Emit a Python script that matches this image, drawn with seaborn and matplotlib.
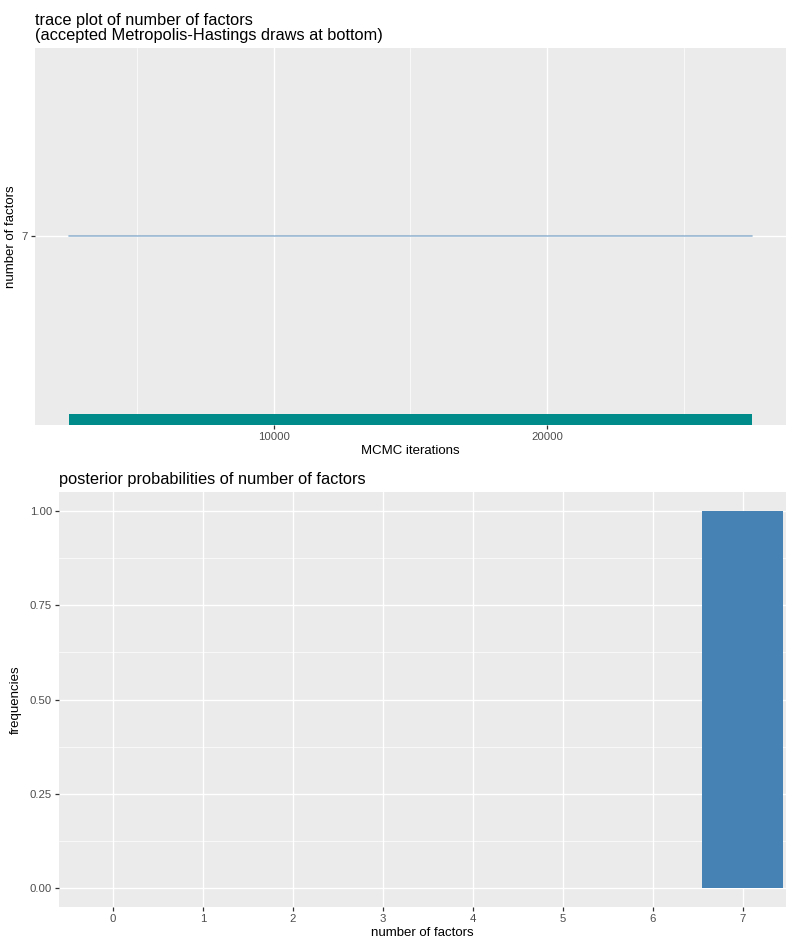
import matplotlib
matplotlib.use("Agg")
import matplotlib.pyplot as plt
import matplotlib.transforms as mtransforms
from matplotlib.ticker import FixedLocator
import seaborn as sns
import pandas as pd

# MCMC trace of the number of factors (run-length: value held over an iteration span)
trace_iter = [2501, 27500]
trace_value = [7, 7]
# span of iterations covered by accepted Metropolis-Hastings draws
accepted_span = [2501, 27500]

# posterior probabilities of the number of factors
n_factors = [0, 1, 2, 3, 4, 5, 6, 7]
post_prob = [0.0, 0.0, 0.0, 0.0, 0.0, 0.0, 0.0, 1.0]

sns.set_theme(style="darkgrid")
plt.rcParams["font.family"] = ["Liberation Sans", "DejaVu Sans"]

PANEL = "#EBEBEB"
TICK = "#4D4D4D"

fig = plt.figure(figsize=(7.86, 9.41), dpi=100)
ax1 = fig.add_axes([0.0445, 0.5484, 0.9555, 0.4006])
ax2 = fig.add_axes([0.0751, 0.0361, 0.925, 0.4410])


def gg_style(ax):
    ax.set_facecolor(PANEL)
    for s in ax.spines.values():
        s.set_visible(False)
    ax.grid(False)
    ax.tick_params(axis="both", which="major", bottom=True, left=True,
                   length=3, width=0.9, color="#333333",
                   labelsize=8.2, labelcolor=TICK, pad=2)
    ax.tick_params(axis="both", which="minor", length=0)


# ---- trace plot ----
gg_style(ax1)
df_trace = pd.DataFrame({"iteration": trace_iter, "factors": trace_value})
ax1.set_xlim(1250, 28750)
ax1.set_ylim(6.95, 7.05)
ax1.xaxis.set_major_locator(FixedLocator([10000, 20000]))
ax1.xaxis.set_minor_locator(FixedLocator([5000, 15000, 25000]))
ax1.yaxis.set_major_locator(FixedLocator([7]))
ax1.grid(True, which="major", color="white", lw=1.0)
ax1.grid(True, which="minor", axis="x", color="white", lw=0.5)
ax1.set_axisbelow(True)
sns.lineplot(data=df_trace, x="iteration", y="factors", ax=ax1,
             color="steelblue", alpha=0.55, lw=1.2)
trans = mtransforms.blended_transform_factory(ax1.transData, ax1.transAxes)
ax1.fill_between(accepted_span, 0, 0.03, transform=trans, color="#008B8B", lw=0)
ax1.set_xlabel("MCMC iterations", fontsize=9.5, color="black", labelpad=2)
ax1.set_ylabel("number of factors", fontsize=9.5, color="black", labelpad=3)
ax1.set_title("trace plot of number of factors\n(accepted Metropolis-Hastings draws at bottom)",
              loc="left", fontsize=11.8, color="black", x=0.0, pad=6,
              linespacing=1.0)
ax1.set_yticklabels(["7"])

# ---- posterior probabilities ----
gg_style(ax2)
df_post = pd.DataFrame({"factors": n_factors, "prob": post_prob})
sns.barplot(data=df_post, x="factors", y="prob", ax=ax2, color="steelblue",
            saturation=1, width=0.9, linewidth=0, zorder=3)
ax2.set_xlim(-0.6, 7.48)
ax2.set_ylim(-0.05, 1.05)
ax2.yaxis.set_major_locator(FixedLocator([0, 0.25, 0.5, 0.75, 1.0]))
ax2.yaxis.set_minor_locator(FixedLocator([0.125, 0.375, 0.625, 0.875]))
ax2.set_yticklabels(["0.00", "0.25", "0.50", "0.75", "1.00"])
ax2.grid(True, which="major", color="white", lw=1.0, zorder=0)
ax2.grid(True, which="minor", axis="y", color="white", lw=0.5, zorder=0)
ax2.set_axisbelow(True)
ax2.set_xlabel("number of factors", fontsize=9.5, color="black", labelpad=2)
ax2.set_ylabel("frequencies", fontsize=9.5, color="black", labelpad=6)
ax2.set_title("posterior probabilities of number of factors", loc="left",
              fontsize=11.8, color="black", x=0.0, pad=6)

fig.savefig("out.png", dpi=100)
